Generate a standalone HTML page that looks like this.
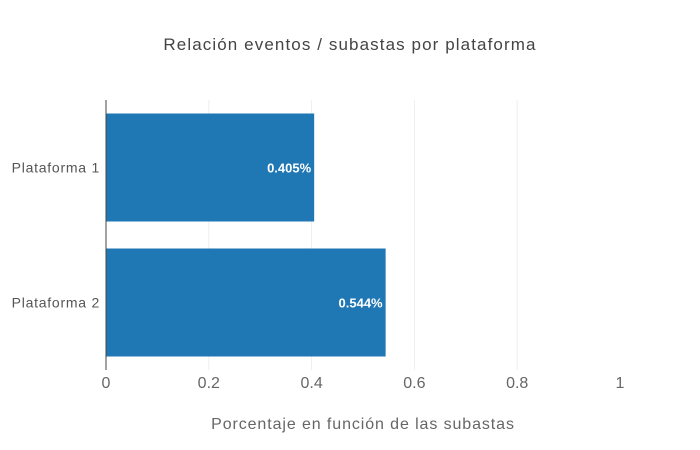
<!DOCTYPE html>
<html><head><meta charset="utf-8"><style>
html,body{margin:0;padding:0;background:#fff;}
svg{display:block;font-family:"Liberation Sans",sans-serif;}
</style></head><body>
<svg id="chart" width="700" height="450">
<text x="350" y="50" text-anchor="middle" font-size="17" letter-spacing="1.1" fill="#444">Relación eventos / subastas por plataforma</text>
<g id="grid"></g><g id="bars"></g><g id="xticks"></g><g id="yticks"></g>
<text x="363" y="429" text-anchor="middle" font-size="16" letter-spacing="0.9" fill="#666">Porcentaje en función de las subastas</text>
</svg>
<script>
const categories = ["Plataforma 1", "Plataforma 2"];
const values = [0.405, 0.544];
const labels = ["0.405%", "0.544%"];
const xTicks = [0, 0.2, 0.4, 0.6, 0.8, 1];
const xTickLabels = ["0", "0.2", "0.4", "0.6", "0.8", "1"];

const NS = "http://www.w3.org/2000/svg";
const L = 106, R = 620, T = 100, B = 370;
const x = v => L + v / 1 * (R - L);
const band = (B - T) / categories.length;
const y = i => T + i * band;
function mk(tag, attrs, parent) {
  const e = document.createElementNS(NS, tag);
  for (const k in attrs) e.setAttribute(k, attrs[k]);
  document.getElementById(parent).appendChild(e);
  return e;
}
xTicks.forEach((t, i) => {
  if (t !== 0 && t !== 1) {
    const g = mk("line", {x1: x(t), x2: x(t), y1: T, y2: B, stroke: "#eee", "stroke-width": 1}, "grid");
    
    
  }
  const tl = mk("text", {x: x(t), y: 388, "text-anchor": "middle", "font-size": 16, fill: "#666"}, "xticks");
  tl.textContent = xTickLabels[i];
  
  
});
categories.forEach((c, i) => {
  const bh = band * 0.8;
  const by = y(i) + band * 0.1;
  const r = mk("rect", {x: x(0), y: by, width: x(values[i]) - x(0), height: bh, fill: "#1f77b4"}, "bars");
  
  
  const vt = mk("text", {x: x(values[i]) - 3, y: y(i) + band / 2 + 5, "text-anchor": "end", "font-size": 13, "font-weight": "bold", fill: "#fff"}, "bars");
  vt.textContent = labels[i];
  
  
  const yl = mk("text", {x: 100, y: y(i) + band / 2 + 5, "text-anchor": "end", "font-size": 14, "letter-spacing": 0.75, fill: "#555"}, "yticks");
  yl.textContent = c;
  
  
});
const z = mk("line", {x1: x(0), x2: x(0), y1: T, y2: B, stroke: "#444", "stroke-width": 1}, "bars");


</script>
</body></html>
